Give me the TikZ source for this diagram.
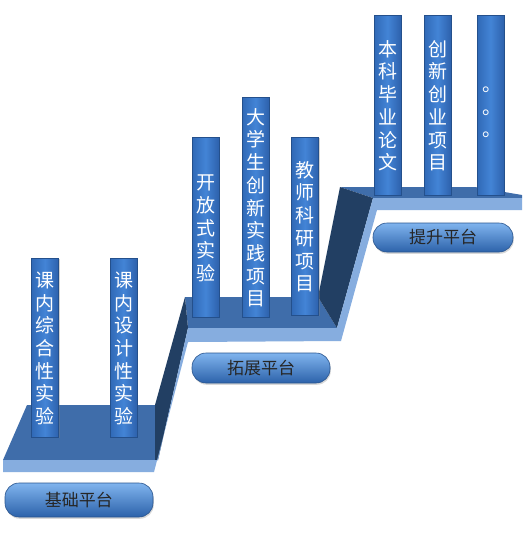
\documentclass[tikz,border=0pt]{standalone}
\usepackage{fontspec}
\newfontfamily\cjk{Noto Sans CJK SC}
\usetikzlibrary{shadows}
\definecolor{topface}{HTML}{3F6DAA}
\definecolor{frontface}{HTML}{86ADDF}
\definecolor{riser}{HTML}{223F63}
\definecolor{pilL}{HTML}{3069B6}
\definecolor{pilM}{HTML}{4384D6}
\definecolor{pilR}{HTML}{2D61AC}
\definecolor{pilD}{HTML}{24508C}
\definecolor{btnT}{HTML}{80B4EE}
\definecolor{btnB}{HTML}{2C62AA}
\definecolor{btnD}{HTML}{2A558E}
\newcommand\vs{\rule[-4pt]{0pt}{18pt}}
\newcommand\vf{\rule[-4pt]{0pt}{24pt}}
\begin{document}
\begin{tikzpicture}[x=1pt,y=-1pt,
  pillarbox/.style={draw=pilD, line width=0.5pt, left color=pilL, right color=pilR, middle color=pilM,
    text=white, font=\cjk\fontsize{19}{22.7}\selectfont, align=center, inner sep=0pt,
    minimum width=27pt, drop shadow={opacity=0.35, shadow xshift=1.2pt, shadow yshift=-1.2pt}},
  lblbox/.style={rounded corners=14pt, top color=btnT, bottom color=btnB, draw=btnD, line width=0.6pt,
    text=black!85, font=\cjk\fontsize{17}{17}\selectfont, inner sep=0pt,
    drop shadow={opacity=0.3, shadow xshift=0.8pt, shadow yshift=-1.8pt}}]
\useasboundingbox (0,0) rectangle (532,539);
\fill[white] (0,0) rectangle (532,539);
% stair faces
\fill[topface] (27,405) -- (155,405) -- (155,460) -- (3,460) -- cycle;
\fill[topface] (185,297) -- (318,297) -- (337,328) -- (188,328) -- cycle;
\fill[topface] (340,187) -- (475,187) -- (522,195) -- (522,198) -- (373,198) -- cycle;
\fill[riser] (155,405) -- (185,297) -- (188,328) -- (158,460) -- (155,460) -- cycle;
\fill[riser] (318,297) -- (340,187) -- (373,198) -- (337,328) -- cycle;
\fill[frontface] (3,460) -- (158,460) -- (188,328) -- (337,328) -- (373,198) -- (522,198)
  -- (522,210) -- (377,210) -- (341,341) -- (188,342) -- (154,472) -- (3,472) -- cycle;
% pillars
\node[pillarbox, minimum height=179pt] (p1) at (45,347.5) {\vf 课\\\vs 内\\\vs 综\\\vs 合\\\vs 性\\\vs 实\\\vs 验};
\node[pillarbox, minimum height=179pt] (p2) at (123.5,347.5) {\vf 课\\\vs 内\\\vs 设\\\vs 计\\\vs 性\\\vs 实\\\vs 验};
\node[pillarbox, minimum height=180pt] (p3) at (205.5,227) {\vf 开\\\vs 放\\\vs 式\\\vs 实\\\vs 验};
\node[pillarbox, minimum height=220pt] (p4) at (255.5,207) {\vf 大\\\vs 学\\\vs 生\\\vs 创\\\vs 新\\\vs 实\\\vs 践\\\vs 项\\\vs 目};
\node[pillarbox, minimum height=178pt] (p5) at (305,226) {\vf 教\\\vs 师\\\vs 科\\\vs 研\\\vs 项\\\vs 目};
\node[pillarbox, minimum height=180pt] (p6) at (387.5,105) {\vf 本\\\vs 科\\\vs 毕\\\vs 业\\\vs 论\\\vs 文};
\node[pillarbox, minimum height=180pt] (p7) at (437.5,105) {\vf 创\\\vs 新\\\vs 创\\\vs 业\\\vs 项\\\vs 目};
\node[pillarbox, minimum height=180pt] (p8) at (490.5,105) {\rule[-4pt]{0pt}{26pt}\hspace{2pt}。\\\vs\hspace{2pt}。\\\vs\hspace{2pt}。};
% labels
\node[lblbox, minimum width=148pt, minimum height=34pt] (b1) at (79,500) {基础平台};
\node[lblbox, minimum width=138pt, minimum height=30pt] (b2) at (261,368) {拓展平台};
\node[lblbox, minimum width=140pt, minimum height=29pt] (b3) at (443,237.5) {提升平台};
\end{tikzpicture}
\end{document}
